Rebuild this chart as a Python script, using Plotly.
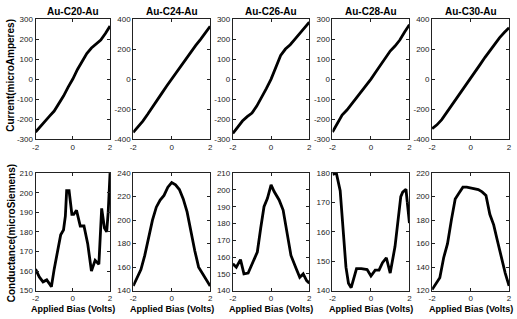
import plotly.graph_objects as go

W, H = 517, 319

# ---------------- data ----------------
titles = ["Au-C20-Au", "Au-C24-Au", "Au-C26-Au", "Au-C28-Au", "Au-C30-Au"]

iv_x = [-2, -1.75, -1.5, -1.25, -1, -0.75, -0.5, -0.25, 0, 0.25, 0.5, 0.75, 1, 1.25, 1.5, 1.75, 2]
iv_c20 = [-265, -237, -210, -185, -160, -125, -85, -40, 0, 48, 92, 128, 155, 175, 195, 228, 265]
iv_c24 = [-355, -320, -280, -235, -185, -140, -92, -45, 0, 47, 95, 140, 180, 225, 265, 310, 352]
iv_c26 = [-272, -240, -210, -188, -170, -135, -95, -48, 0, 60, 118, 150, 172, 200, 230, 258, 285]
iv_c28 = [-265, -225, -180, -155, -125, -95, -65, -32, 0, 35, 72, 108, 140, 165, 195, 235, 272]
iv_c30 = [-330, -305, -270, -225, -180, -130, -85, -40, 0, 48, 98, 145, 190, 235, 275, 310, 342]

g_x_c20 = [-2.0, -1.8, -1.6, -1.4, -1.25, -1.15, -1.0, -0.8, -0.65, -0.5, -0.4, -0.33, -0.2,
           -0.05, 0.05, 0.2, 0.4, 0.6, 0.8, 1.0, 1.2, 1.4, 1.55, 1.7, 1.82, 1.9, 2.0]
g_c20 = [161, 157, 154.5, 155.5, 153.5, 152, 161, 170, 178.5, 181, 188, 201, 201,
         189, 189, 191, 183, 183, 174, 160, 165.5, 163.5, 192, 182, 180, 190, 210]

g_x_c24 = [-2, -1.8, -1.6, -1.4, -1.2, -1.0, -0.8, -0.6, -0.4, -0.2, 0, 0.2, 0.4, 0.6, 0.8,
           1.0, 1.2, 1.4, 1.6, 1.8, 2.0]
g_c24 = [144, 151, 158, 170, 185, 200, 211, 217, 221, 228, 232, 230, 226, 218, 207,
         189, 174, 160, 155, 150, 144]

g_x_c26 = [-2, -1.82, -1.6, -1.42, -1.2, -0.98, -0.72, -0.54, -0.37, -0.19, 0, 0.16, 0.42,
           0.63, 0.81, 1.04, 1.3, 1.5, 1.68, 1.86, 2]
g_c26 = [156, 154, 158.5, 150, 150.5, 156, 163, 177.5, 190, 195, 203, 199, 194,
         188, 175, 161, 153.5, 148, 150, 146, 144.5]

g_x_c28 = [-2, -1.8, -1.6, -1.45, -1.3, -1.17, -1.03, -0.9, -0.75, -0.5, -0.2, 0, 0.22,
           0.42, 0.6, 0.8, 1.0, 1.25, 1.55, 1.65, 1.82, 2.0]
g_c28 = [179.5, 180, 174, 162, 148, 142.5, 141, 144, 147.5, 147.5, 147.2, 145, 147,
         147, 149.5, 151.2, 146, 155, 172, 173.5, 174.5, 163]

g_x_c30 = [-2, -1.8, -1.6, -1.4, -1.2, -1.0, -0.8, -0.6, -0.4, -0.2, 0, 0.2, 0.4, 0.6, 0.8,
           1.0, 1.2, 1.4, 1.6, 1.8, 2.0]
g_c30 = [121, 126, 131, 148, 160, 180, 198, 203, 208, 208, 207.5, 207, 206, 204, 201,
         185, 176, 162, 148, 135, 124]

iv_series = [iv_c20, iv_c24, iv_c26, iv_c28, iv_c30]
g_series = [(g_x_c20, g_c20), (g_x_c24, g_c24), (g_x_c26, g_c26), (g_x_c28, g_c28), (g_x_c30, g_c30)]

iv_ranges = [[-300, 300], [-400, 400], [-300, 300], [-300, 300], [-400, 400]]
iv_ticks = [list(range(-300, 301, 100)), list(range(-400, 401, 200)), list(range(-300, 301, 100)),
            list(range(-300, 301, 100)), list(range(-400, 401, 200))]
g_ranges = [[150, 210], [140, 240], [140, 210], [140, 180], [120, 220]]
g_ticks = [list(range(150, 211, 10)), list(range(140, 241, 20)), list(range(140, 211, 10)),
           list(range(140, 181, 10)), list(range(120, 221, 20))]
x_ticks = [-2, 0, 2]

# ---------------- layout geometry (pixels) ----------------
px_cols = [(32, 107.5), (131, 209), (232, 309.5), (333, 411), (434, 512)]
px_rows = [(15.5, 139), (174, 295)]

fig = go.Figure()
layout = dict(width=W, height=H, margin=dict(l=0, r=0, t=0, b=0),
              paper_bgcolor="white", plot_bgcolor="white", showlegend=False)
annotations = []

tickfont = dict(family="Liberation Sans, Arial, sans-serif", size=8, color="#222")
boldfont = dict(family="Liberation Sans, Arial, sans-serif", size=10, color="black")
xlabfont = dict(family="Liberation Sans, Arial, sans-serif", size=9, color="black")

n = 0
for r in range(2):
    for c in range(5):
        n += 1
        xa = "xaxis" if n == 1 else f"xaxis{n}"
        ya = "yaxis" if n == 1 else f"yaxis{n}"
        xr = "x" if n == 1 else f"x{n}"
        yr = "y" if n == 1 else f"y{n}"
        x0, x1 = px_cols[c]
        y0, y1 = px_rows[r]
        if r == 0:
            xs, ys = iv_x, iv_series[c]
            yrange, yticks = iv_ranges[c], iv_ticks[c]
        else:
            xs, ys = g_series[c]
            yrange, yticks = g_ranges[c], g_ticks[c]
        fig.add_trace(go.Scatter(x=xs, y=ys, mode="lines", xaxis=xr, yaxis=yr,
                                 line=dict(color="black", width=2.8), hoverinfo="skip"))
        common = dict(showgrid=False, zeroline=False, showline=True, linecolor="#222",
                      linewidth=1, mirror="allticks", ticks="inside", ticklen=3,
                      tickcolor="#222", tickwidth=1, tickfont=tickfont, fixedrange=True)
        layout[xa] = dict(domain=[x0 / W, x1 / W], range=[-2, 2], tickvals=x_ticks,
                          ticktext=[str(v) for v in x_ticks], anchor=yr, **common)
        layout[ya] = dict(domain=[1 - y1 / H, 1 - y0 / H], range=yrange, tickvals=yticks,
                          ticktext=[str(v) for v in yticks], anchor=xr, **common)
        if r == 0:
            annotations.append(dict(text="<b>%s</b>" % titles[c], x=(x0 + x1) / 2 / W,
                                    y=1 - 8 / H, xref="paper", yref="paper",
                                    showarrow=False, font=boldfont,
                                    xanchor="center", yanchor="middle"))
        else:
            annotations.append(dict(text="<b>Applied Bias (Volts)</b>", x=(x0 + x1) / 2 / W,
                                    y=0, xref="paper", yref="paper", borderpad=0,
                                    showarrow=False, font=xlabfont,
                                    xanchor="center", yanchor="bottom", yshift=-1))

annotations.append(dict(text="<b>Current(microAmperes)</b>", x=7 / W, y=1 - 73 / H,
                        xref="paper", yref="paper", showarrow=False, textangle=-90,
                        font=boldfont, xanchor="center", yanchor="middle"))
annotations.append(dict(text="<b>Conductance(microSiemens)</b>", x=7 / W, y=1 - 236 / H,
                        xref="paper", yref="paper", showarrow=False, textangle=-90,
                        font=boldfont, xanchor="center", yanchor="middle"))
layout["annotations"] = annotations
fig.update_layout(**layout)
fig.write_html("out.html", config={"displayModeBar": False},
               post_script="document.body.style.margin='0';document.body.style.overflow='hidden';")
